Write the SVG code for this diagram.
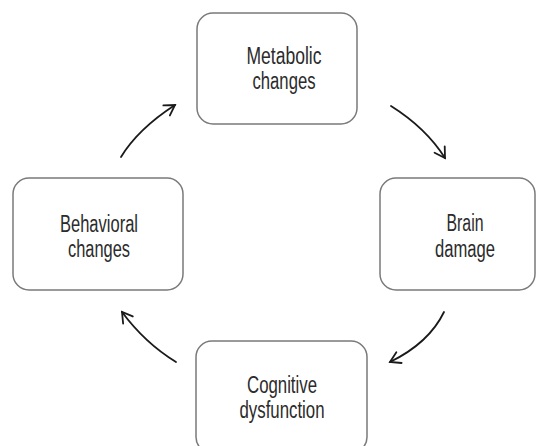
<svg xmlns="http://www.w3.org/2000/svg" width="539" height="446" viewBox="0 0 539 446">
<defs>
<style>
.box{fill:#fff;stroke:#7a7a7a;stroke-width:1.5}
.lbl{font-family:"Liberation Sans Narrow","Liberation Sans",Arial,sans-serif;font-stretch:condensed;font-size:23px;fill:#2b2b2b;text-anchor:middle}
.arr{fill:none;stroke:#1a1a1a;stroke-width:1.8;stroke-linecap:round;marker-end:url(#ah)}
</style>
<marker id="ah" markerUnits="userSpaceOnUse" viewBox="-12 -8 14 16" refX="0" refY="0" markerWidth="14" markerHeight="16" orient="auto">
<path d="M-10,-6 L0,0 L-10,6" fill="none" stroke="#1a1a1a" stroke-width="1.8" stroke-linecap="round" stroke-linejoin="miter"/>
</marker>
</defs>
<rect width="539" height="446" fill="#fff"/>
<g id="metabolic">
<rect class="box" x="197" y="13" width="160" height="111" rx="16"/>
<text class="lbl" x="284" y="64" textLength="75" lengthAdjust="spacingAndGlyphs">Metabolic</text>
<text class="lbl" x="284" y="89" textLength="63" lengthAdjust="spacingAndGlyphs">changes</text>
</g>
<g id="brain">
<rect class="box" x="380" y="178" width="155" height="112" rx="16"/>
<text class="lbl" x="465" y="231" textLength="37" lengthAdjust="spacingAndGlyphs">Brain</text>
<text class="lbl" x="465" y="257" textLength="60" lengthAdjust="spacingAndGlyphs">damage</text>
</g>
<g id="cognitive">
<rect class="box" x="196" y="341" width="171" height="112" rx="16"/>
<text class="lbl" x="282" y="393" textLength="70" lengthAdjust="spacingAndGlyphs">Cognitive</text>
<text class="lbl" x="282" y="418" textLength="85" lengthAdjust="spacingAndGlyphs">dysfunction</text>
</g>
<g id="behavioral">
<rect class="box" x="13" y="178" width="170" height="112" rx="16"/>
<text class="lbl" x="99" y="232" textLength="78" lengthAdjust="spacingAndGlyphs">Behavioral</text>
<text class="lbl" x="99" y="257" textLength="62" lengthAdjust="spacingAndGlyphs">changes</text>
</g>
<g id="connectors">
<path class="arr" d="M121,157 Q138,129 175,105"/>
<path class="arr" d="M391,106 Q426,128 445,158"/>
<path class="arr" d="M444,312 Q429,343 390,362"/>
<path class="arr" d="M176,362 Q145,343 122,312"/>
</g>
</svg>
